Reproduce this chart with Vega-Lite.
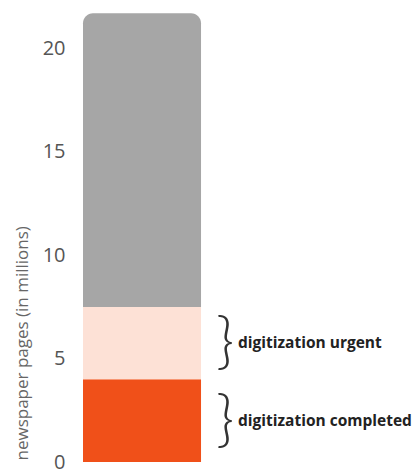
{
  "$schema": "https://vega.github.io/schema/vega-lite/v6.json",
  "width": 330,
  "height": 455,
  "autosize": "none",
  "padding": {"left": 83, "top": 7, "right": 0, "bottom": 8},
  "config": {"view": {"stroke": null}, "font": "Open Sans"},
  "data": {
    "values": [
      {"bar": "pages", "segment": "digitization completed", "from": 0, "to": 4},
      {"bar": "pages", "segment": "digitization urgent", "from": 4, "to": 7.5},
      {"bar": "pages", "segment": "not yet digitized", "from": 7.5, "to": 21.7}
    ]
  },
  "encoding": {
    "x": {
      "field": "bar",
      "type": "nominal",
      "axis": null,
      "scale": {"paddingInner": 0, "paddingOuter": 0.898, "align": 0}
    }
  },
  "layer": [
    {
      "transform": [{"filter": "datum.segment != 'not yet digitized'"}],
      "mark": {"type": "bar"},
      "encoding": {
        "y": {
          "field": "from",
          "type": "quantitative",
          "scale": {"domain": [0, 22], "nice": false},
          "axis": {
            "values": [0, 5, 10, 15, 20],
            "ticks": false,
            "domain": false,
            "grid": false,
            "labelPadding": 18,
            "labelFontSize": 20,
            "labelColor": "#555555",
            "title": "newspaper pages (in millions)",
            "titleFontSize": 17,
            "titleFontWeight": "normal",
            "titleColor": "#666666",
            "titleAnchor": "start",
            "titlePadding": 11,
            "titleY": 453
          }
        },
        "y2": {"field": "to"},
        "color": {
          "field": "segment",
          "type": "nominal",
          "scale": {
            "domain": ["digitization completed", "digitization urgent", "not yet digitized"],
            "range": ["#F05019", "#FDE1D6", "#A6A6A6"]
          },
          "legend": null
        }
      }
    },
    {
      "transform": [{"filter": "datum.segment == 'not yet digitized'"}],
      "mark": {"type": "bar", "cornerRadiusTopLeft": 10, "cornerRadiusTopRight": 10},
      "encoding": {
        "y": {"field": "from", "type": "quantitative"},
        "y2": {"field": "to"},
        "color": {"field": "segment", "type": "nominal", "legend": null}
      }
    },
    {
      "transform": [
        {"filter": "datum.segment != 'not yet digitized'"},
        {"calculate": "(datum.from + datum.to) / 2", "as": "mid"}
      ],
      "mark": {
        "type": "text",
        "text": "}",
        "align": "left",
        "baseline": "middle",
        "dx": 74,
        "fontSize": 62,
        "font": "Lato",
        "fontWeight": 300,
        "color": "#333333"
      },
      "encoding": {"y": {"field": "mid", "type": "quantitative"}}
    },
    {
      "transform": [
        {"filter": "datum.segment != 'not yet digitized'"},
        {"calculate": "(datum.from + datum.to) / 2", "as": "mid"}
      ],
      "mark": {
        "type": "text",
        "align": "left",
        "baseline": "middle",
        "dx": 96,
        "fontSize": 15.5,
        "fontWeight": "bold",
        "color": "#222222"
      },
      "encoding": {
        "y": {"field": "mid", "type": "quantitative"},
        "text": {"field": "segment"}
      }
    }
  ]
}
